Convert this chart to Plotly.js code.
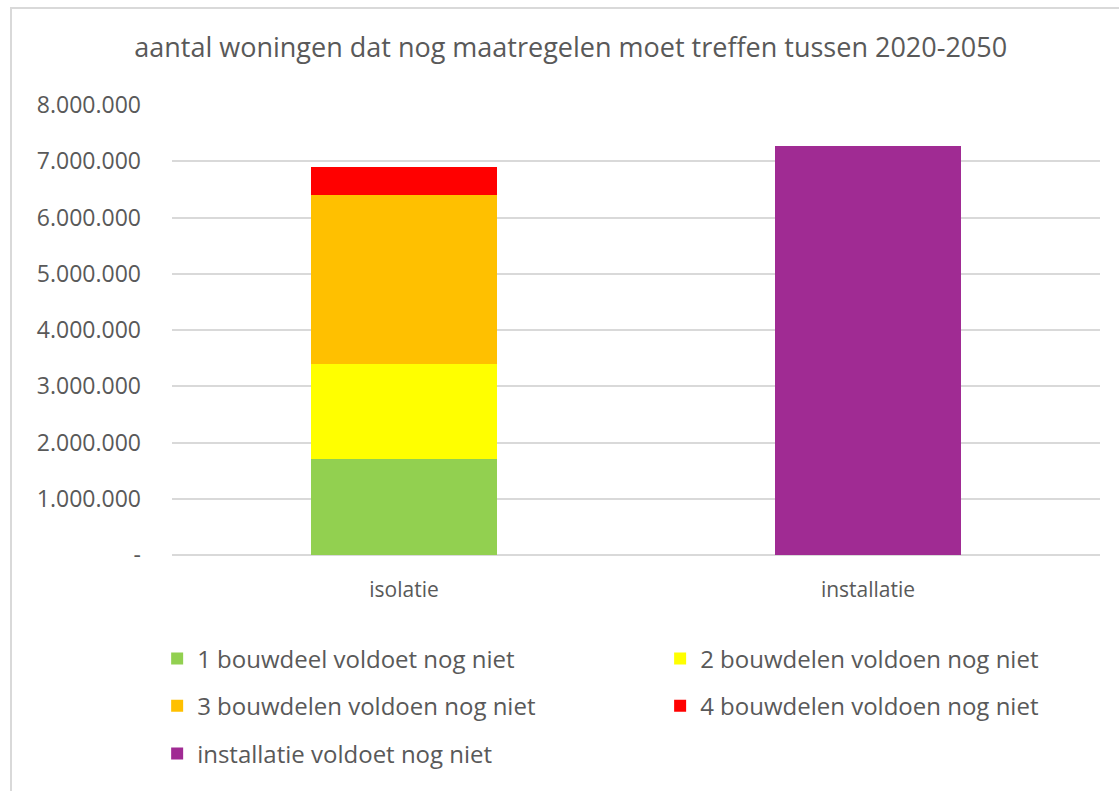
<!DOCTYPE html>
<html>
<head>
<meta charset="utf-8">
<script src="https://cdn.plot.ly/plotly-3.0.1.min.js"></script>
<style>
  body { margin: 0; background: #fff; }
  #plot { width: 1119px; height: 791px; }
  #frame { position: absolute; left: 10px; top: 7px; width: 1200px; height: 900px;
           border: 2px solid #d9d9d9; pointer-events: none; }
</style>
</head>
<body>
<div id="plot"></div>
<div id="frame"></div>
<script>
const categories = ['isolatie', 'installatie'];
const seriesNames = [
  '1 bouwdeel voldoet nog niet',
  '2 bouwdelen voldoen nog niet',
  '3 bouwdelen voldoen nog niet',
  '4 bouwdelen voldoen nog niet',
  'installatie voldoet nog niet'
];
const isolatieValues = [1700000, 1700000, 3000000, 500000];
const installatieValue = [7280000];
const colors = ['#92D050', '#FFFF00', '#FFC000', '#FF0000', '#A02B93'];
const tickVals = [0, 1000000, 2000000, 3000000, 4000000, 5000000, 6000000, 7000000, 8000000];
const tickText = ['-', '1.000.000', '2.000.000', '3.000.000', '4.000.000', '5.000.000', '6.000.000', '7.000.000', '8.000.000'];

// one legend per entry so the two-column grid can be placed exactly
const legendIds = ['legend', 'legend2', 'legend3', 'legend4', 'legend5'];

const traces = isolatieValues.map((v, i) => ({
  type: 'bar',
  x: [categories[0]],
  y: [v],
  name: seriesNames[i],
  marker: { color: colors[i] },
  width: 0.4,
  legend: legendIds[i]
}));

traces.push({
  type: 'bar',
  x: [categories[1]],
  y: installatieValue,
  name: seriesNames[4],
  marker: { color: colors[4] },
  width: 0.4,
  legend: legendIds[4]
});

const font = { family: 'Open Sans, sans-serif', color: '#595959' };

function legendAt(x, y) {
  return {
    orientation: 'v',
    x: x, xanchor: 'left',
    y: y, yanchor: 'middle',
    itemwidth: 30,
    font: { family: font.family, color: font.color, size: 24 },
    bgcolor: 'rgba(0,0,0,0)'
  };
}

const layout = {
  width: 1119,
  height: 791,
  margin: { l: 172, r: 19, t: 105, b: 236 },
  paper_bgcolor: '#fff',
  plot_bgcolor: '#fff',
  barmode: 'stack',
  showlegend: true,
  font: font,
  title: {
    text: 'aantal woningen dat nog maatregelen moet treffen tussen 2020-2050',
    font: { family: font.family, color: font.color, size: 27 },
    x: 0.51, xanchor: 'center',
    y: 0.94, yanchor: 'middle'
  },
  xaxis: {
    categoryorder: 'array',
    categoryarray: categories,
    showgrid: false,
    showline: false,
    zeroline: false,
    ticks: '',
    ticklabelstandoff: 20,
    tickfont: { size: 21, color: '#595959' }
  },
  yaxis: {
    range: [0, 8000000],
    tickvals: tickVals,
    ticktext: tickText,
    showgrid: true,
    gridcolor: '#d9d9d9',
    gridwidth: 1.5,
    zeroline: true,
    zerolinecolor: '#d9d9d9',
    zerolinewidth: 1.5,
    showline: false,
    ticks: '',
    ticklabelstandoff: 30,
    tickfont: { size: 23, color: '#595959' }
  },
  legend: legendAt(-0.016, -0.231),
  legend2: legendAt(0.526, -0.231),
  legend3: legendAt(-0.016, -0.336),
  legend4: legendAt(0.526, -0.336),
  legend5: legendAt(-0.016, -0.442)
};

Plotly.newPlot('plot', traces, layout, { displayModeBar: false });
</script>
</body>
</html>
